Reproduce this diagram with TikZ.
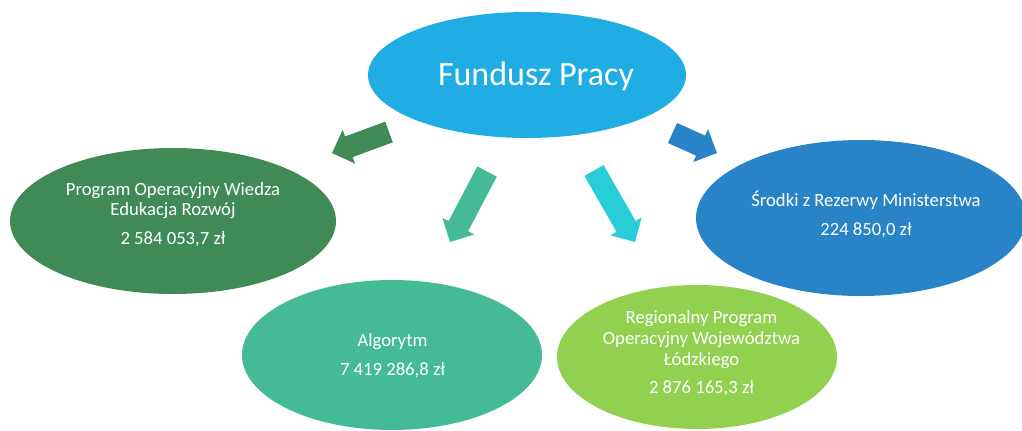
\documentclass[tikz,border=0pt]{standalone}
\usepackage{fontspec}
\setmainfont{Carlito}
\usetikzlibrary{shapes.geometric,calc}
\definecolor{cTop}{HTML}{1FADE4}
\definecolor{cLeft}{HTML}{3F8A55}
\definecolor{cAlg}{HTML}{44BA96}
\definecolor{cReg}{HTML}{92D050}
\definecolor{cRight}{HTML}{2884C6}
\definecolor{cCyan}{HTML}{29CDD8}
\newcommand\blockarr[3]{%
  \path ($(#3)!13.5pt!(#2)$) coordinate (tmpB);
  \fill[#1] ($(#2)!8.25pt!90:(#3)$) -- ($(tmpB)!8.25pt!90:(#3)$)
    -- ($(tmpB)!13.5pt!90:(#3)$) -- (#3) -- ($(tmpB)!13.5pt!-90:(#3)$)
    -- ($(tmpB)!8.25pt!-90:(#3)$) -- ($(#2)!8.25pt!-90:(#3)$) -- cycle;}
\begin{document}
\begin{tikzpicture}[x=0.75pt,y=-0.75pt,
  lbl/.style={anchor=base,text=white,font=\fontsize{14pt}{16.8pt}\selectfont,inner sep=0pt}]
\useasboundingbox (0,0) rectangle (1022,430);
\clip (0,0) rectangle (1022,430);
% ellipses
\fill[cAlg] (392,355) ellipse [x radius=150, y radius=75];
\fill[cReg] (697,357) ellipse [x radius=140, y radius=72];
\fill[cLeft] (173,221) ellipse [x radius=163, y radius=73];
\fill[cRight] (861,218) ellipse [x radius=165, y radius=78];
\fill[cTop] (527,75) ellipse [x radius=159, y radius=63];
% texts
\node[anchor=base,text=white,font=\fontsize{25.5pt}{30pt}\selectfont,inner sep=0pt] (fpt) at (536,85) {Fundusz Pracy};
\node[lbl] (pow1) at (173,195) {Program Operacyjny Wiedza};
\node[lbl] (pow2) at (173,215.5) {Edukacja Rozwój};
\node[lbl] (pow3) at (173,244) {2 584 053,7 zł};
\node[lbl] (rez1) at (866,206.5) {Środki z Rezerwy Ministerstwa};
\node[lbl] (rez2) at (866,235) {224 850,0 zł};
\node[lbl] (alg1) at (392.5,346.5) {Algorytm};
\node[lbl] (alg2) at (392.5,375) {7 419 286,8 zł};
\node[lbl] (reg1) at (701.5,323) {Regionalny Program};
\node[lbl] (reg2) at (701.5,344) {Operacyjny Województwa};
\node[lbl] (reg3) at (701.5,365) {Łódzkiego};
\node[lbl] (reg4) at (701.5,393) {2 876 165,3 zł};
% arrows
\coordinate (a1s) at (389,132); \coordinate (a1e) at (332,153);
\coordinate (a2s) at (487,171.5); \coordinate (a2e) at (450,242);
\coordinate (a3s) at (594,170.5); \coordinate (a3e) at (635,242);
\coordinate (a4s) at (672.5,133); \coordinate (a4e) at (717,153);
\blockarr{cLeft}{a1s}{a1e}
\blockarr{cAlg}{a2s}{a2e}
\blockarr{cCyan}{a3s}{a3e}
\blockarr{cRight}{a4s}{a4e}
\end{tikzpicture}
\end{document}
